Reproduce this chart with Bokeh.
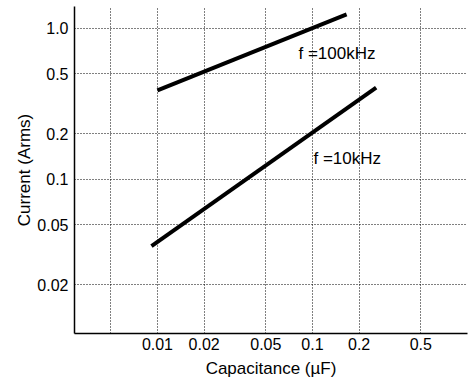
from bokeh.plotting import figure
from bokeh.models import FixedTicker, Range1d, ColumnDataSource
from bokeh.core.properties import value
from bokeh.embed import file_html
from bokeh.resources import INLINE

# Data
cap_100k = [0.01, 0.166]
cur_100k = [0.389, 1.24]
cap_10k = [0.00915, 0.2575]
cur_10k = [0.0361, 0.405]

x_ticks = [0.01, 0.02, 0.05, 0.1, 0.2, 0.5]
x_tick_labels = ["0.01", "0.02", "0.05", "0.1", "0.2", "0.5"]
x_grid_ticks = [0.005, 0.01, 0.02, 0.05, 0.1, 0.2, 0.5]
y_ticks = [0.02, 0.05, 0.1, 0.2, 0.5, 1.0]
y_tick_labels = ["0.02", "0.05", "0.1", "0.2", "0.5", "1.0"]

curve_labels = ["f =100kHz", "f =10kHz"]
curve_label_x = [0.0812, 0.1015]
curve_label_y = [0.683, 0.138]

FONT = "Liberation Sans"

p = figure(width=474, height=385, x_axis_type="log", y_axis_type="log",
           x_range=Range1d(0.002917, 1.0), y_range=Range1d(0.0095, 1.398),
           output_backend="svg", toolbar_location=None,
           min_border_left=74, min_border_right=7, min_border_top=6, min_border_bottom=52)
p.outline_line_color = None

p.line(cap_100k, cur_100k, line_width=4, line_color="black")
p.line(cap_10k, cur_10k, line_width=4, line_color="black")

src = ColumnDataSource(dict(x=curve_label_x, y=curve_label_y, t=curve_labels))
p.text(x="x", y="y", text="t", source=src, text_font=value(FONT),
       text_font_size="17px", text_baseline="middle", text_align="left", text_color="black")

p.xaxis.ticker = FixedTicker(ticks=x_ticks)
p.yaxis.ticker = FixedTicker(ticks=y_ticks)
p.xaxis.major_label_overrides = {t: l for t, l in zip(x_ticks, x_tick_labels)}
p.yaxis.major_label_overrides = {t: l for t, l in zip(y_ticks, y_tick_labels)}
p.xgrid.ticker = FixedTicker(ticks=x_grid_ticks)
p.ygrid.ticker = FixedTicker(ticks=y_ticks)

for g in (p.xgrid, p.ygrid):
    g.grid_line_color = "#000000"
    g.grid_line_dash = "1 2"
    g.grid_line_width = 1

p.xaxis.axis_label = "Capacitance (\u00b5F)"
p.yaxis.axis_label = "Current (Arms)"
for ax in (p.xaxis, p.yaxis):
    ax.axis_line_color = "black"
    ax.axis_line_width = 1.5
    ax.major_tick_line_color = None
    ax.minor_tick_line_color = None
    ax.major_tick_out = 0
    ax.major_tick_in = 0
    ax.minor_tick_out = 0
    ax.minor_tick_in = 0
    ax.major_label_text_font = FONT
    ax.major_label_text_font_size = "16px"
    ax.major_label_text_color = "black"
    ax.axis_label_text_font = FONT
    ax.axis_label_text_font_size = "17px"
    ax.axis_label_text_font_style = "normal"
    ax.axis_label_text_color = "black"
p.xaxis.major_label_standoff = 4
p.xaxis.axis_label_standoff = 6
p.yaxis.major_label_standoff = 6
p.yaxis.axis_label_standoff = 0

open("out.html", "w").write(file_html(p, INLINE))
